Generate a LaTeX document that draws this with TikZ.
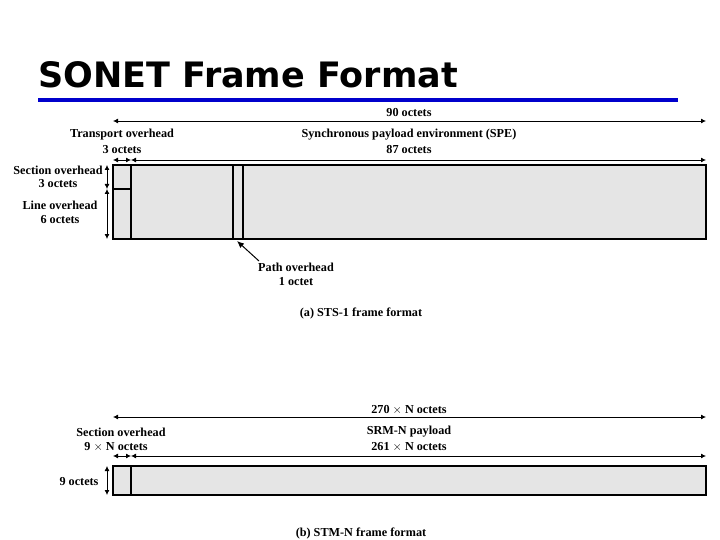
\documentclass[tikz,border=0pt]{standalone}
\usepackage{fontspec}
\setmainfont{Liberation Serif}
\newfontfamily\titlefont{DejaVu Sans}
\usetikzlibrary{arrows.meta}
\begin{document}
\begin{tikzpicture}[x=1pt,y=-1pt,
  lbl/.style={font=\bfseries\fontsize{12.2}{13}\selectfont,inner sep=0pt,align=center},
  box/.style={draw,line width=1.6pt,fill=black!10},
  div/.style={line width=1.6pt},
  dim/.style={{Latex[length=5pt,width=5pt]}-{Latex[length=5pt,width=5pt]},line width=0.8pt},
  pt/.style={-{Latex[length=7pt,width=6pt]},line width=1pt}]
\useasboundingbox (0,0) rectangle (720,540);
\node[anchor=base west,inner sep=0pt,font=\titlefont\bfseries\fontsize{35}{38}\selectfont] (title) at (38,88) {SONET Frame Format};
\fill[blue!80!black] (38,98) rectangle (678,102);
% (a)
\draw[box] (113,165) rectangle (706,239);
\draw[div] (131,165) -- (131,239);
\draw[div] (113,189) -- (131,189);
\draw[div] (233,165) -- (233,239);
\draw[div] (243,165) -- (243,239);
\coordinate (a1) at (113,121); \coordinate (a2) at (706,121);
\draw[dim] (a1) -- (a2);
\node[lbl] (n90) at (409,113) {90 octets};
\node[lbl] (to) at (122,135) {Transport overhead};
\node[lbl] (to3) at (122,150) {3 octets};
\node[lbl] (spe) at (409,135) {Synchronous payload environment (SPE)};
\node[lbl] (spe87) at (409,150) {87 octets};
\coordinate (b1) at (113,160); \coordinate (b2) at (131,160); \coordinate (b3) at (706,160);
\draw[dim] (b1) -- (b2);
\draw[dim] (b2) -- (b3);
\coordinate (v1) at (107,165); \coordinate (v2) at (107,189); \coordinate (v3) at (107,239);
\draw[dim] (v1) -- (v2);
\draw[dim] (v2) -- (v3);
\node[lbl] (so) at (58,170) {Section overhead};
\node[lbl] (so3) at (58,184) {3 octets};
\node[lbl] (lo) at (60,205) {Line overhead};
\node[lbl] (lo6) at (60,220) {6 octets};
\node[lbl] (po) at (296,267) {Path overhead};
\node[lbl] (po1) at (296,282) {1 octet};
\coordinate (pt1) at (259,261); \coordinate (pt2) at (237,241);
\draw[pt] (pt1) -- (pt2);
\node[lbl] (capa) at (361,314) {(a) STS-1 frame format};
% (b)
\draw[box] (113,466) rectangle (706,495);
\draw[div] (131,466) -- (131,495);
\coordinate (c1) at (113,417); \coordinate (c2) at (706,417);
\draw[dim] (c1) -- (c2);
\node[lbl] (n270) at (409,410) {270 $\times$ N octets};
\node[lbl] (so2) at (121,432) {Section overhead};
\node[lbl] (so9) at (116,447) {9 $\times$ N octets};
\node[lbl] (srm) at (409,432) {SRM-N payload};
\node[lbl] (srm261) at (409,447) {261 $\times$ N octets};
\coordinate (d1) at (113,456); \coordinate (d2) at (131,456); \coordinate (d3) at (706,456);
\draw[dim] (d1) -- (d2);
\draw[dim] (d2) -- (d3);
\coordinate (w1) at (107,466); \coordinate (w2) at (107,495);
\draw[dim] (w1) -- (w2);
\node[lbl] (n9) at (79,482) {9 octets};
\node[lbl] (capb) at (361,533) {(b) STM-N frame format};
\end{tikzpicture}
\end{document}
